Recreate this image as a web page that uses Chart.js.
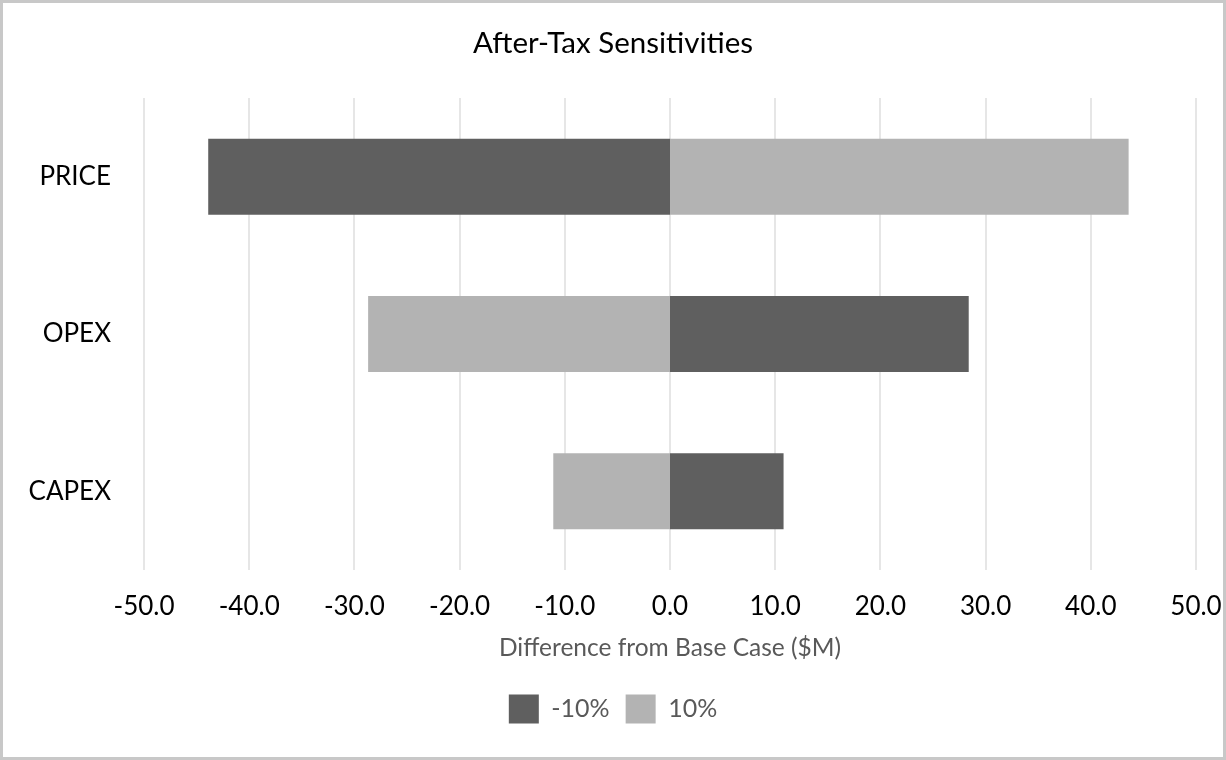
<!DOCTYPE html>
<html>
<head>
<meta charset="utf-8">
<script src="https://cdn.jsdelivr.net/npm/chart.js@4"></script>
<style>
  html, body { margin: 0; padding: 0; background: #fff; }
  #wrap { position: relative; width: 1226px; height: 760px; }
  #frame { position: absolute; left: 0; top: 0; width: 1226px; height: 760px; box-sizing: border-box; border: 3px solid #c8c8c8; pointer-events: none; }
  canvas { display: block; }
</style>
</head>
<body>
<div id="wrap">
  <canvas id="c" width="1226" height="760"></canvas>
  <div id="frame"></div>
</div>
<script>
const categories = ["PRICE", "OPEX", "CAPEX"];
const seriesNames = ["-10%", "10%"];
const minus10 = [-43.8, 28.3, 10.7];
const plus10 = [43.5, -28.6, -11.0];
const xTickValues = [-50, -40, -30, -20, -10, 0, 10, 20, 30, 40, 50];
const chartTitle = "After-Tax Sensitivities";
const xAxisTitle = "Difference from Base Case ($M)";

const FONT = "Lato, 'Open Sans', sans-serif";
const DARK = '#5f5f5f';
const LIGHT = '#b3b3b3';

const barStyle = { categoryPercentage: 1, barPercentage: 0.47, borderWidth: 0, inflateAmount: 1 };

new Chart(document.getElementById('c'), {
  type: 'bar',
  data: {
    labels: categories,
    datasets: [
      Object.assign({ label: seriesNames[0], data: minus10, backgroundColor: DARK }, barStyle),
      Object.assign({ label: seriesNames[1], data: plus10, backgroundColor: LIGHT }, barStyle)
    ]
  },
  options: {
    indexAxis: 'y',
    responsive: false,
    animation: false,
    devicePixelRatio: 1,
    layout: { padding: { left: 0, right: 0, top: 0, bottom: 26.5 } },
    scales: {
      x: {
        stacked: true,
        min: -50, max: 50,
        afterBuildTicks: (s) => { s.ticks = xTickValues.map(v => ({ value: v })); },
        afterFit: (s) => { s.paddingRight = 30; s.paddingLeft = 0; s.height = 108.5; },
        ticks: {
          callback: (v) => Number(v).toFixed(1),
          color: '#000',
          font: { family: FONT, size: 26, lineHeight: 1.0 },
          padding: 24,
          maxRotation: 0
        },
        grid: { color: '#e6e6e6', lineWidth: 2, drawTicks: false },
        border: { display: false },
        title: {
          display: true,
          text: xAxisTitle,
          color: '#595959',
          font: { family: FONT, size: 24.5 },
          padding: { top: 0, bottom: 15.8 }
        }
      },
      y: {
        stacked: true,
        afterFit: (s) => { s.width = 144; },
        ticks: {
          color: '#000',
          font: { family: FONT, size: 26 },
          padding: 33
        },
        grid: { display: false, drawTicks: false },
        border: { display: false }
      }
    },
    plugins: {
      title: {
        display: true,
        text: chartTitle,
        color: '#000',
        font: { family: FONT, size: 29.5, weight: 'normal' },
        padding: { top: 25.8, bottom: 36.8 }
      },
      legend: {
        position: 'bottom',
        labels: {
          color: '#595959',
          font: { family: FONT, size: 25 },
          boxWidth: 30,
          boxHeight: 29,
          padding: 16
        }
      },
      tooltip: { enabled: false }
    }
  }
});
</script>
</body>
</html>
